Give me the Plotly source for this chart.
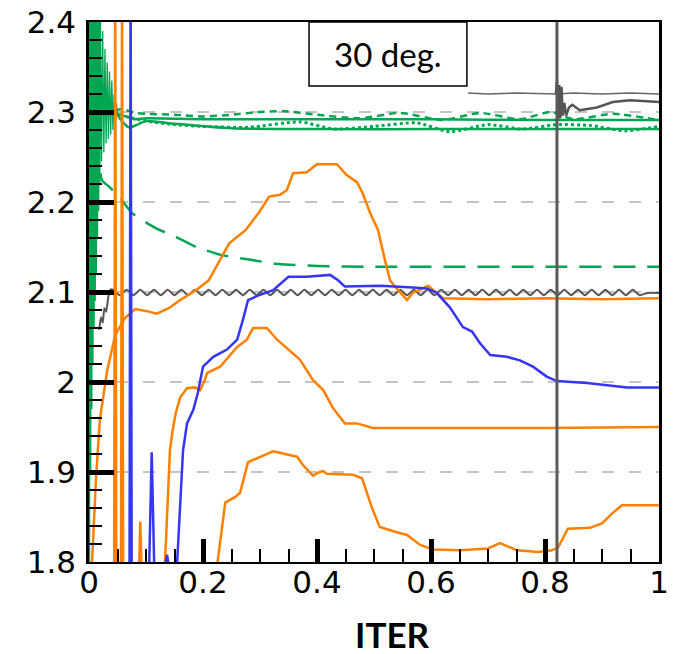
import plotly.graph_objects as go

# ---------------- data ----------------
GREEN_OSC_X = [0.000, 0.001, 0.002, 0.003, 0.004, 0.005, 0.006, 0.007, 0.008, 0.009,
               0.010, 0.011, 0.012, 0.013, 0.014, 0.015, 0.016, 0.017, 0.018, 0.019,
               0.020, 0.022, 0.024, 0.026, 0.028, 0.030, 0.032, 0.034, 0.036, 0.038,
               0.040, 0.042, 0.044, 0.046, 0.048, 0.050]
GREEN_OSC_Y = [2.45, 1.80, 2.45, 1.90, 2.45, 1.97, 2.45, 2.02, 2.45, 2.06,
               2.45, 2.09, 2.45, 2.12, 2.45, 2.16, 2.45, 2.19, 2.43, 2.22,
               2.41, 2.245, 2.39, 2.255, 2.37, 2.265, 2.355, 2.27, 2.345, 2.275,
               2.335, 2.28, 2.32, 2.285, 2.31, 2.295]

GREEN_DASH_X = [0.045, 0.06, 0.08, 0.1, 0.15, 0.2, 0.25, 0.3, 0.34, 0.4, 0.475,
                0.546, 0.62, 0.686, 0.756, 0.81, 0.85, 0.92, 1.0]
GREEN_DASH_Y = [2.302, 2.303, 2.299, 2.298, 2.297, 2.295, 2.297, 2.3, 2.301, 2.297, 2.293,
                2.299, 2.291, 2.299, 2.292, 2.3, 2.292, 2.298, 2.291]

GREEN_SOLID1_X = [0.045, 0.06, 0.08, 0.1, 0.2, 0.4, 0.6, 0.8, 1.0]
GREEN_SOLID1_Y = [2.298, 2.296, 2.292, 2.293, 2.292, 2.292, 2.292, 2.291, 2.291]

GREEN_SOLID2_X = [0.045, 0.055, 0.07, 0.085, 0.1, 0.15, 0.25, 0.4, 0.6, 0.8, 1.0]
GREEN_SOLID2_Y = [2.305, 2.292, 2.283, 2.286, 2.29, 2.287, 2.282, 2.281, 2.281, 2.281, 2.281]

GREEN_DOT_X = [0.045, 0.07, 0.1, 0.15, 0.2, 0.28, 0.37, 0.43, 0.5, 0.575, 0.633, 0.7,
               0.76, 0.82, 0.88, 0.94, 1.0]
GREEN_DOT_Y = [2.3, 2.294, 2.29, 2.286, 2.284, 2.283, 2.289, 2.281, 2.284, 2.288, 2.278, 2.286,
               2.281, 2.286, 2.285, 2.279, 2.284]

GREEN_DECAY_X = [0.02, 0.023, 0.035, 0.053, 0.075, 0.117, 0.153, 0.188, 0.233, 0.281,
                 0.333, 0.4, 0.5, 0.6, 0.8, 1.0]
GREEN_DECAY_Y = [2.232, 2.224, 2.217, 2.206, 2.188, 2.171, 2.161, 2.150, 2.141, 2.136,
                 2.131, 2.129, 2.128, 2.128, 2.128, 2.128]

GRAY_HEAD_X = [0.018, 0.021, 0.024, 0.027, 0.030, 0.034, 0.038]
GRAY_HEAD_Y = [2.058, 2.072, 2.066, 2.082, 2.078, 2.095, 2.103]
GRAY_WAVE_START = 0.042
GRAY_WAVE_STEP = 0.012
GRAY_WAVE_Y = [2.1025, 2.0965] * 39
GRAY_TAIL_X = [0.98, 1.0]
GRAY_TAIL_Y = [2.099, 2.099]

GRAY_TOP_X = [0.665, 0.7, 0.75, 0.8, 0.821, 0.85, 0.9, 0.95, 1.0]
GRAY_TOP_Y = [2.321, 2.32, 2.321, 2.32, 2.32, 2.321, 2.32, 2.321, 2.32]

GRAY_RESTART_X = [0.819, 0.821, 0.823, 0.825, 0.827, 0.829, 0.831, 0.834, 0.837, 0.842,
                  0.848, 0.861, 0.891, 0.919, 0.949, 1.0]
GRAY_RESTART_Y = [2.32, 2.335, 2.29, 2.33, 2.293, 2.328, 2.296, 2.31, 2.296, 2.305,
                  2.308, 2.302, 2.305, 2.311, 2.313, 2.311]

GRAY_JUMP_X = [0.821, 0.821]
GRAY_JUMP_Y = [1.75, 2.45]

ORANGE1_X = [0.004, 0.007, 0.012, 0.019, 0.032, 0.046, 0.063, 0.081, 0.1, 0.119, 0.14,
             0.16, 0.19, 0.21, 0.233, 0.246, 0.275, 0.3, 0.316, 0.335, 0.347, 0.358,
             0.382, 0.4, 0.435, 0.452, 0.47, 0.48, 0.493, 0.507, 0.519, 0.528, 0.537,
             0.546, 0.558, 0.568, 0.595, 0.621, 0.7, 0.8, 0.9, 1.0]
ORANGE1_Y = [1.78, 1.824, 1.89, 1.958, 2.013, 2.052, 2.071, 2.081, 2.079, 2.076, 2.082,
             2.091, 2.103, 2.113, 2.139, 2.154, 2.169, 2.19, 2.206, 2.208, 2.213, 2.232,
             2.233, 2.242, 2.242, 2.23, 2.222, 2.21, 2.188, 2.169, 2.136, 2.113, 2.106,
             2.1, 2.091, 2.099, 2.107, 2.093, 2.092, 2.093, 2.092, 2.093]

ORANGE2_X = [0.044, 0.046, 0.048, 0.086, 0.09, 0.094, 0.132, 0.142, 0.146, 0.152, 0.16,
             0.172, 0.186, 0.195, 0.203, 0.207, 0.23, 0.26, 0.277, 0.288, 0.312, 0.33,
             0.37, 0.393, 0.411, 0.428, 0.449, 0.47, 0.498, 0.651, 0.8, 1.0]
ORANGE2_Y = [1.75, 2.45, 1.75, 1.75, 1.845, 1.75, 1.78, 1.924, 1.943, 1.965, 1.983,
             1.993, 1.994, 1.991, 2.002, 2.01, 2.017, 2.039, 2.047, 2.06, 2.06, 2.047,
             2.025, 2.002, 1.991, 1.971, 1.954, 1.954, 1.949, 1.949, 1.949, 1.95]

ORANGE3_X = [0.056, 0.058, 0.060, 0.222, 0.226, 0.239, 0.256, 0.265, 0.279, 0.3, 0.323,
             0.365, 0.375, 0.393, 0.405, 0.411, 0.417, 0.463, 0.479, 0.496, 0.51, 0.54,
             0.558, 0.581, 0.604, 0.651, 0.7, 0.721, 0.751, 0.788, 0.812, 0.823, 0.84,
             0.879, 0.9, 0.918, 0.935, 1.0]
ORANGE3_Y = [1.75, 2.45, 1.75, 1.75, 1.802, 1.866, 1.872, 1.877, 1.911, 1.917, 1.923,
             1.917, 1.908, 1.896, 1.9, 1.901, 1.898, 1.897, 1.893, 1.861, 1.839, 1.833,
             1.83, 1.819, 1.814, 1.813, 1.815, 1.821, 1.813, 1.811, 1.813, 1.816, 1.837,
             1.838, 1.843, 1.854, 1.863, 1.863]

BLUE_X = [0.071, 0.073, 0.075, 0.104, 0.11, 0.116, 0.132, 0.137, 0.141, 0.153, 0.165,
          0.172, 0.183, 0.191, 0.2, 0.218, 0.242, 0.26, 0.27, 0.279, 0.3, 0.323, 0.35,
          0.382, 0.423, 0.437, 0.449, 0.511, 0.568, 0.593, 0.61, 0.633, 0.656, 0.672,
          0.686, 0.704, 0.733, 0.756, 0.779, 0.803, 0.821, 0.874, 0.944, 1.0]
BLUE_Y = [1.75, 2.45, 1.75, 1.75, 1.922, 1.75, 1.79, 1.808, 1.79, 1.78, 1.924,
          1.954, 1.969, 1.988, 2.017, 2.028, 2.036, 2.047, 2.069, 2.091, 2.097, 2.102, 2.117,
          2.117, 2.119, 2.113, 2.106, 2.107, 2.105, 2.104, 2.099, 2.083, 2.061, 2.056,
          2.043, 2.03, 2.028, 2.024, 2.017, 2.006, 2.001, 1.999, 1.994, 1.994]

X_RANGE = [0, 1]
Y_RANGE = [1.8, 2.4]
X_TICKS = [0, 0.2, 0.4, 0.6, 0.8, 1]
Y_TICKS = [1.8, 1.9, 2.0, 2.1, 2.2, 2.3, 2.4]
LABEL_TEXT = "30 deg."
X_TITLE = "ITER"

GREEN = "#00A651"
ORANGE = "#FF8000"
BLUE = "#3535F5"
GRAY = "#555555"

# ---------------- figure ----------------
gray_wave_x = [round(GRAY_WAVE_START + GRAY_WAVE_STEP * i, 4) for i in range(len(GRAY_WAVE_Y))]
gray_x = GRAY_HEAD_X + gray_wave_x + GRAY_TAIL_X
gray_y = GRAY_HEAD_Y + GRAY_WAVE_Y + GRAY_TAIL_Y

fig = go.Figure()


def add(x, y, color, width, dash="solid", shape="linear"):
    fig.add_trace(go.Scatter(x=x, y=y, mode="lines", showlegend=False, hoverinfo="skip",
                             line=dict(color=color, width=width, dash=dash, shape=shape,
                                       smoothing=0.6 if shape == "spline" else None)))


add(GREEN_OSC_X, GREEN_OSC_Y, GREEN, 1.3)
add(GREEN_SOLID2_X, GREEN_SOLID2_Y, GREEN, 2.5, shape="spline")
add(GREEN_SOLID1_X, GREEN_SOLID1_Y, GREEN, 2.5, shape="spline")
add(GREEN_DOT_X, GREEN_DOT_Y, GREEN, 3, "dot", shape="spline")
add(GREEN_DASH_X, GREEN_DASH_Y, GREEN, 2.5, "7px,5px", shape="spline")
add(GREEN_DECAY_X, GREEN_DECAY_Y, GREEN, 2.5, "22px,12px", shape="spline")
add(gray_x, gray_y, GRAY, 2, shape="spline")
add(GRAY_TOP_X, GRAY_TOP_Y, "#666666", 1.5)
add(GRAY_RESTART_X, GRAY_RESTART_Y, GRAY, 2.5)
add(ORANGE1_X, ORANGE1_Y, ORANGE, 2.5)
add(ORANGE2_X, ORANGE2_Y, ORANGE, 2.5)
add(ORANGE3_X, ORANGE3_Y, ORANGE, 2.5)
add(BLUE_X, BLUE_Y, BLUE, 2.5)
add(GRAY_JUMP_X, GRAY_JUMP_Y, "#5a5a5a", 3)

tick_font = dict(family="DejaVu Sans", size=31, color="black")

fig.update_xaxes(
    range=X_RANGE, tickvals=X_TICKS, ticktext=[("%g" % v) for v in X_TICKS],
    showline=True, linecolor="black", linewidth=2, mirror=True,
    ticks="inside", ticklen=23, tickwidth=5, tickcolor="black",
    minor=dict(dtick=0.05, ticks="inside", ticklen=13, tickwidth=1.5, tickcolor="black", showgrid=False),
    showgrid=False, zeroline=False, tickfont=tick_font, ticklabelstandoff=-8,
    ticklabeloverflow="allow", automargin=False,
)
fig.update_yaxes(
    range=Y_RANGE, tickvals=Y_TICKS, ticktext=[("%g" % v) for v in Y_TICKS],
    showline=True, linecolor="black", linewidth=2.5, mirror=True,
    ticks="inside", ticklen=25, tickwidth=5, tickcolor="black",
    minor=dict(dtick=0.02, ticks="inside", ticklen=13, tickwidth=1.5, tickcolor="black", showgrid=False),
    showgrid=True, gridcolor="#c4c4c4", gridwidth=1.5, griddash="12px,15px",
    zeroline=False, tickfont=tick_font, ticklabelstandoff=4,
    ticklabeloverflow="allow", automargin=False,
)

fig.add_shape(type="rect", xref="paper", yref="paper", x0=0.386, x1=0.663, y0=0.8815, y1=1.0,
              line=dict(color="black", width=1.5), fillcolor="white", layer="above")
fig.add_annotation(text=LABEL_TEXT, xref="paper", yref="paper", x=0.5245, y=0.941,
                   showarrow=False, xanchor="center", yanchor="middle",
                   font=dict(family="Lato", size=33, color="black"))
fig.add_annotation(text="<b>" + X_TITLE + "</b>", xref="paper", yref="paper", x=0.533, y=-0.134,
                   showarrow=False, xanchor="center", yanchor="middle",
                   font=dict(family="Lato", size=35, color="black"))

fig.update_layout(
    width=675, height=654,
    margin=dict(l=89, r=16, t=22, b=92, autoexpand=False),
    paper_bgcolor="white", plot_bgcolor="white",
    showlegend=False,
)

# remove the browser's default 8px body margin so the figure fills the window exactly
fig.write_html("out.html", config={"displayModeBar": False},
               post_script="document.body.style.margin='0';document.body.style.overflow='hidden';")
